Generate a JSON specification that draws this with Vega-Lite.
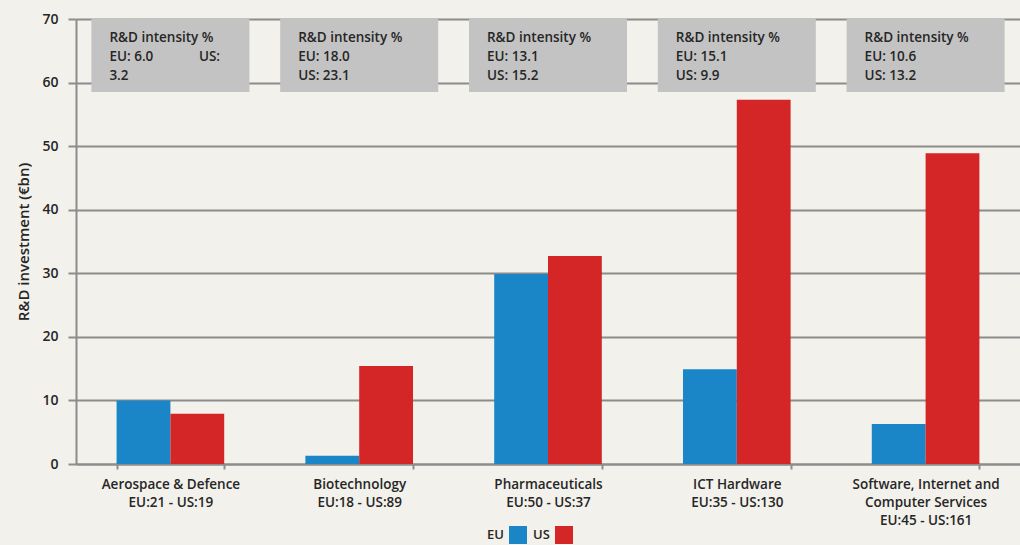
{
  "$schema": "https://vega.github.io/schema/vega-lite/v6.json",
  "width": 944,
  "height": 445,
  "autosize": {"type": "none"},
  "padding": {"left": 76, "top": 19, "right": 0, "bottom": 81},
  "background": "#f2f1eb",
  "config": {"view": {"stroke": null}, "font": "Open Sans"},
  "datasets": {
    "inv": [
      {"sector": "Aerospace & Defence|EU:21 - US:19", "region": "EU", "value": 10.0},
      {"sector": "Aerospace & Defence|EU:21 - US:19", "region": "US", "value": 7.9},
      {"sector": "Biotechnology|EU:18 - US:89", "region": "EU", "value": 1.3},
      {"sector": "Biotechnology|EU:18 - US:89", "region": "US", "value": 15.4},
      {"sector": "Pharmaceuticals|EU:50 - US:37", "region": "EU", "value": 29.9},
      {"sector": "Pharmaceuticals|EU:50 - US:37", "region": "US", "value": 32.7},
      {"sector": "ICT Hardware|EU:35 - US:130", "region": "EU", "value": 14.9},
      {"sector": "ICT Hardware|EU:35 - US:130", "region": "US", "value": 57.3},
      {"sector": "Software, Internet and|Computer Services|EU:45 - US:161", "region": "EU", "value": 6.3},
      {"sector": "Software, Internet and|Computer Services|EU:45 - US:161", "region": "US", "value": 48.9}
    ],
    "box": [
      {"sector": "Aerospace & Defence|EU:21 - US:19", "intensity": "R&D intensity %\nEU: 6.0\u00a0\u00a0\u00a0\u00a0\u00a0\u00a0\u00a0\u00a0\u00a0\u00a0\u00a0\u00a0\u00a0US:\n3.2"},
      {"sector": "Biotechnology|EU:18 - US:89", "intensity": "R&D intensity %\nEU: 18.0\nUS: 23.1"},
      {"sector": "Pharmaceuticals|EU:50 - US:37", "intensity": "R&D intensity %\nEU: 13.1\nUS: 15.2"},
      {"sector": "ICT Hardware|EU:35 - US:130", "intensity": "R&D intensity %\nEU: 15.1\nUS: 9.9"},
      {"sector": "Software, Internet and|Computer Services|EU:45 - US:161", "intensity": "R&D intensity %\nEU: 10.6\nUS: 13.2"}
    ]
  },
  "layer": [
    {
      "data": {"name": "inv"},
      "mark": {"type": "bar"},
      "encoding": {
        "x": {
          "field": "sector", "type": "nominal",
          "sort": ["Aerospace & Defence|EU:21 - US:19", "Biotechnology|EU:18 - US:89", "Pharmaceuticals|EU:50 - US:37", "ICT Hardware|EU:35 - US:130", "Software, Internet and|Computer Services|EU:45 - US:161"],
          "scale": {"paddingInner": 0.43, "paddingOuter": 0.215},
          "axis": {
            "title": null, "labelAngle": 0, "labelExpr": "split(datum.label, '|')",
            "labelFont": "Open Sans", "labelFontWeight": 600,
            "labelFontSize": 13.5, "labelLineHeight": 18, "labelColor": "#262626", "labelPadding": 8,
            "ticks": true, "tickBand": "extent", "domainColor": "#8c8c8c", "domainWidth": 2,
            "tickColor": "#8c8c8c", "tickSize": 5, "tickWidth": 2, "grid": false
          }
        },
        "xOffset": {"field": "region", "type": "nominal", "sort": ["EU", "US"], "scale": {"paddingInner": 0, "paddingOuter": 0}},
        "y": {
          "field": "value", "type": "quantitative",
          "scale": {"domain": [0, 70], "nice": false},
          "axis": {
            "title": "R&D investment (€bn)", "titleFont": "Open Sans", "titleFontSize": 15, "titleFontWeight": 600, "titleColor": "#262626", "titlePadding": 10,
            "values": [0, 10, 20, 30, 40, 50, 60, 70],
            "labelFont": "Open Sans", "labelFontWeight": 600,
            "labelFontSize": 14, "labelColor": "#262626", "labelPadding": 10,
            "grid": true, "gridColor": "#8c8c8c", "gridWidth": 2,
            "domainColor": "#8c8c8c", "domainWidth": 2, "tickColor": "#8c8c8c", "tickSize": 8, "tickWidth": 2
          }
        },
        "color": {
          "field": "region", "type": "nominal",
          "scale": {"domain": ["EU", "US"], "range": ["#1a86c8", "#d42527"]},
          "legend": {
            "title": null, "orient": "none", "legendX": 411, "legendY": 507,
            "direction": "horizontal", "symbolType": "square", "symbolSize": 324,
            "symbolStrokeWidth": 0, "symbolOpacity": 1,
            "labelFont": "Open Sans", "labelFontWeight": 600,
            "labelFontSize": 13, "labelColor": "#262626",
            "symbolOffset": 22, "labelOffset": -40, "columnPadding": 6
          }
        }
      }
    },
    {
      "data": {"name": "box"},
      "mark": {"type": "bar", "width": 158, "color": "#c3c3c3"},
      "encoding": {
        "x": {"field": "sector", "type": "nominal", "sort": ["Aerospace & Defence|EU:21 - US:19", "Biotechnology|EU:18 - US:89", "Pharmaceuticals|EU:50 - US:37", "ICT Hardware|EU:35 - US:130", "Software, Internet and|Computer Services|EU:45 - US:161"]},
        "y": {"datum": 70.1},
        "y2": {"datum": 58.5}
      }
    },
    {
      "data": {"name": "box"},
      "mark": {"type": "text", "align": "left", "baseline": "top", "dx": -61, "dy": 12, "lineBreak": "\n", "lineHeight": 19, "font": "Open Sans", "fontWeight": 600, "fontSize": 13.5, "color": "#262626"},
      "encoding": {
        "x": {"field": "sector", "type": "nominal", "sort": ["Aerospace & Defence|EU:21 - US:19", "Biotechnology|EU:18 - US:89", "Pharmaceuticals|EU:50 - US:37", "ICT Hardware|EU:35 - US:130", "Software, Internet and|Computer Services|EU:45 - US:161"]},
        "y": {"datum": 70},
        "text": {"field": "intensity"}
      }
    }
  ]
}
